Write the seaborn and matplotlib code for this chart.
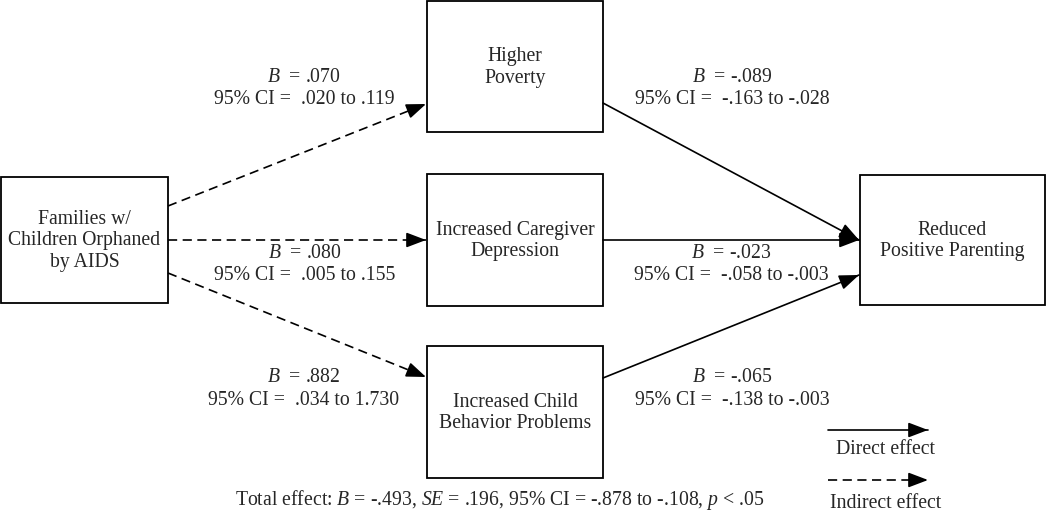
import matplotlib
matplotlib.use("Agg")
import matplotlib.pyplot as plt
import seaborn as sns
from matplotlib.patches import Rectangle

# node labels
exposure = "Families w/\nChildren Orphaned\nby AIDS"
mediators = ["Higher\nPoverty", "Increased Caregiver\nDepression", "Increased Child\nBehavior Problems"]
outcome = "Reduced\nPositive Parenting"

# path a (exposure -> mediator) and path b (mediator -> outcome)
a_B = [".070", ".080", ".882"]
a_CI = [(".020", ".119"), (".005", ".155"), (".034", "1.730")]
b_B = ["-.089", "-.023", "-.065"]
b_CI = [("-.163", "-.028"), ("-.058", "-.003"), ("-.138", "-.003")]

total_B = "-.493"
total_SE = ".196"
total_CI = ("-.878", "-.108")
total_p = ".05"

sns.set_theme(style="white")
plt.rcParams["font.family"] = ["Liberation Serif", "DejaVu Serif"]
plt.rcParams["mathtext.fontset"] = "custom"
plt.rcParams["mathtext.rm"] = "Liberation Serif"
plt.rcParams["mathtext.it"] = "Liberation Serif:italic"

fig = plt.figure(figsize=(10.5, 5.13), dpi=100)
ax = fig.add_axes([0, 0, 1, 1])
ax.set_xlim(0, 1050)
ax.set_ylim(513, 0)
ax.axis("off")

FS = 14.2

# layout (pixel space)
ex_box = (1, 177, 167, 126)
med_boxes = [(427, 1, 176, 131), (427, 174, 176, 132), (427, 346, 176, 132)]
out_box = (860, 175, 185, 130)


def box(b, label):
    x, y, w, h = b
    ax.add_patch(Rectangle((x, y), w, h, fill=False, ec="black", lw=1.3))
    ax.text(x + w / 2, y + h / 2 + 1, label, ha="center", va="center",
            fontsize=FS, linespacing=1.17)


def arrow(p0, p1, dashed=False):
    ls = (0, (5.5, 3.3)) if dashed else "-"
    ax.plot([p0[0], p1[0]], [p0[1], p1[1]], color="black", lw=1.2, ls=ls)
    dx, dy = p1[0] - p0[0], p1[1] - p0[1]
    n = (dx ** 2 + dy ** 2) ** 0.5
    s = (p1[0] - dx / n * 14, p1[1] - dy / n * 14)
    ax.annotate("", xy=p1, xytext=s,
                arrowprops=dict(arrowstyle="-|>,head_length=1.0,head_width=0.38",
                                color="black", lw=1.2, shrinkA=0, shrinkB=0))


box(ex_box, exposure)
for b, m in zip(med_boxes, mediators):
    box(b, m)
box(out_box, outcome)

a_start = [(168, 206), (168, 240), (168, 273)]
a_end = [(426, 104), (426, 240), (426, 377)]
b_start = [(603, 103), (603, 240), (603, 378)]
b_end = [(859, 240), (859, 240), (859, 275)]

for i in range(3):
    arrow(a_start[i], a_end[i], dashed=True)
    arrow(b_start[i], b_end[i])

a_lab = [(304, 77), (305, 253), (304, 378)]
b_lab = [(732, 77), (731, 253), (732, 378)]
for i in range(3):
    x, y = a_lab[i]
    ax.text(x, y, f"$B$  = {a_B[i]}", ha="center", va="center", fontsize=FS)
    ax.text(x, y + 22.5, f"95% CI =  {a_CI[i][0]} to {a_CI[i][1]}",
            ha="center", va="center", fontsize=FS)
    x, y = b_lab[i]
    ax.text(x, y, f"$B$  = {b_B[i]}", ha="center", va="center", fontsize=FS)
    ax.text(x, y + 22.5, f"95% CI =  {b_CI[i][0]} to {b_CI[i][1]}",
            ha="center", va="center", fontsize=FS)

ax.text(500, 500,
        f"Total effect: $B$ = {total_B}, $SE$ = {total_SE}, "
        f"95% CI = {total_CI[0]} to {total_CI[1]}, $p$ < {total_p}",
        ha="center", va="center", fontsize=FS)

# legend
arrow((828, 430), (928, 430))
ax.text(885, 450, "Direct effect", ha="center", va="center", fontsize=FS)
arrow((828, 480), (928, 480), dashed=True)
ax.text(886, 503, "Indirect effect", ha="center", va="center", fontsize=FS)

fig.savefig("out.png", dpi=100)
